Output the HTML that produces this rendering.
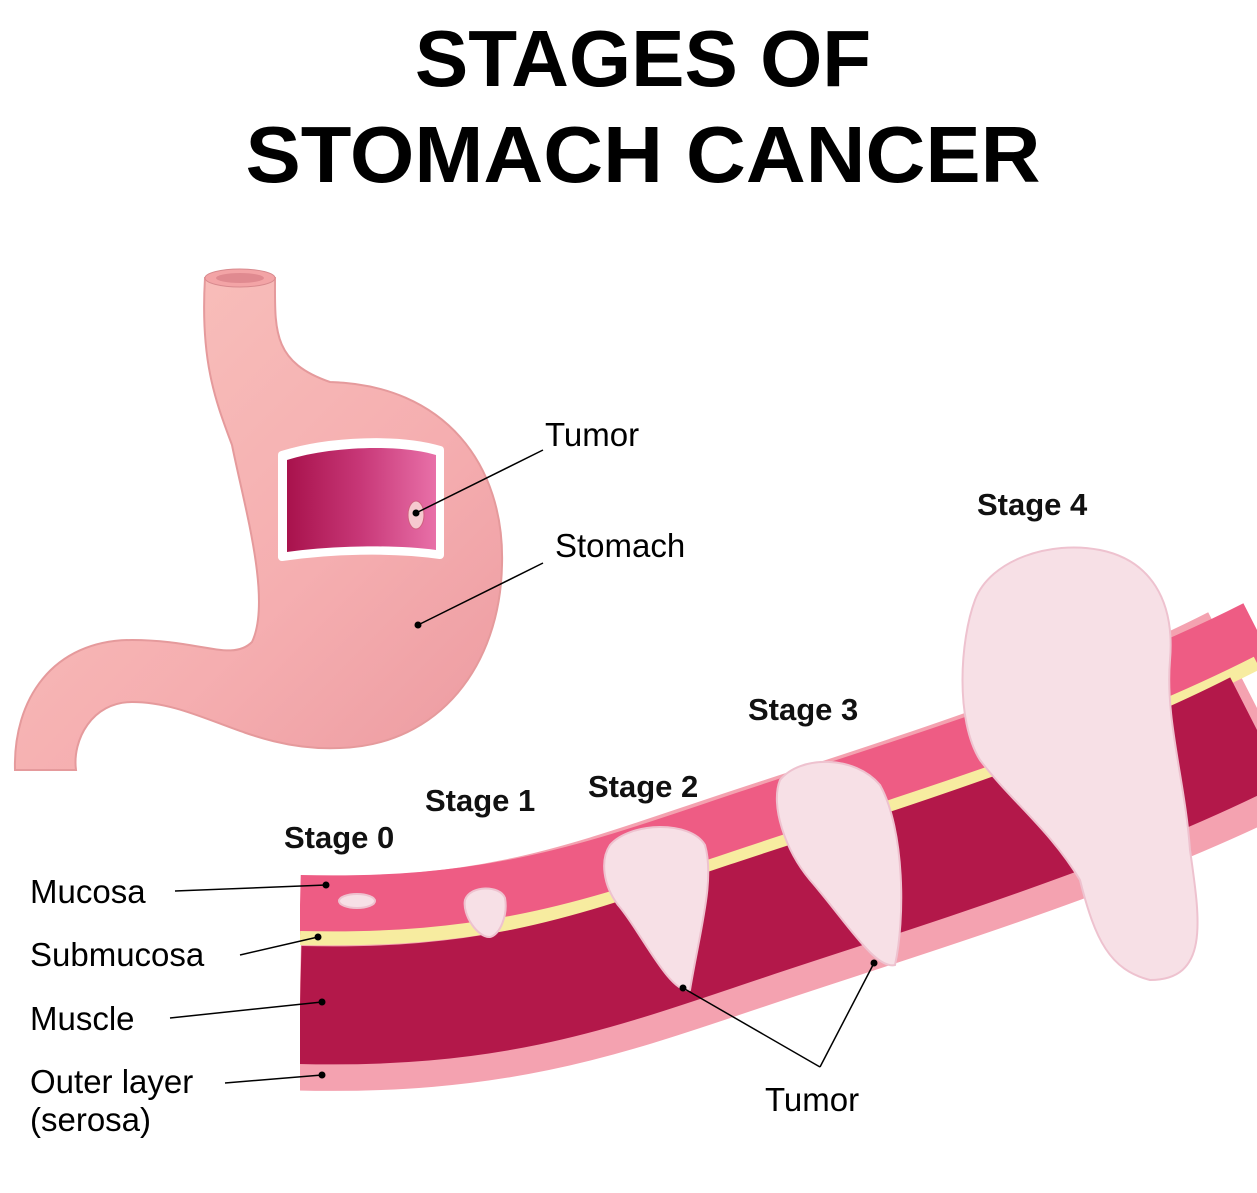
<!DOCTYPE html>
<html><head><meta charset="utf-8"><style>
html,body{margin:0;padding:0;background:#fff;}
svg{display:block;}
</style></head><body>
<svg width="1257" height="1193" viewBox="0 0 1257 1193" xmlns="http://www.w3.org/2000/svg">
<defs>
<linearGradient id="st" x1="0" y1="0" x2="1" y2="1">
<stop offset="0" stop-color="#f9c4be"/><stop offset="0.6" stop-color="#f5aeb0"/><stop offset="1" stop-color="#ec9aa0"/>
</linearGradient>
<linearGradient id="win" x1="0" y1="0" x2="1" y2="0">
<stop offset="0" stop-color="#a8124c"/><stop offset="0.5" stop-color="#c83878"/><stop offset="1" stop-color="#e870a8"/>
</linearGradient>
</defs>
<text x="643" y="86" text-anchor="middle" font-family="Liberation Sans, sans-serif" font-weight="bold" font-size="80" fill="#000">STAGES OF</text>
<text x="643" y="182" text-anchor="middle" font-family="Liberation Sans, sans-serif" font-weight="bold" font-size="80" fill="#000" textLength="795" lengthAdjust="spacingAndGlyphs">STOMACH CANCER</text>

<!-- stomach -->
<path d="M205,278 L275,278 C275,330 272,362 330,382 C445,385 505,465 502,565 C500,665 440,745 340,748 C250,752 200,702 132,702 C92,702 72,740 76,770 L15,770 C13,700 52,640 132,640 C200,640 232,662 252,642 C272,600 244,505 232,445 C216,402 200,362 205,278 Z" fill="url(#st)" stroke="#e59a9c" stroke-width="2"/>
<ellipse cx="240" cy="278" rx="35" ry="9" fill="#f3a4a6" stroke="#d88a8e"/>
<ellipse cx="240" cy="278" rx="24" ry="5" fill="#e08a90"/>
<path d="M282,455 C330,440 400,438 440,450 L440,555 C390,548 330,550 282,557 Z" fill="#fff" stroke="#fff" stroke-width="8" stroke-linejoin="round"/>
<path d="M287,460 C330,446 400,444 436,455 L436,550 C390,544 330,546 287,552 Z" fill="url(#win)"/>
<ellipse cx="416" cy="515" rx="8" ry="14" fill="#f6c9cf" stroke="#d06080"/>
<line x1="416" y1="513" x2="543" y2="450" stroke="#000" stroke-width="1.5"/><circle cx="416" cy="513" r="3.5"/>
<line x1="418" y1="625" x2="543" y2="563" stroke="#000" stroke-width="1.5"/><circle cx="418" cy="625" r="3.5"/>
<text x="545" y="446" font-family="Liberation Sans, sans-serif" font-size="33">Tumor</text>
<text x="555" y="557" font-family="Liberation Sans, sans-serif" font-size="33">Stomach</text>

<!-- tissue strip -->
<g fill="none" stroke-linecap="butt">
<path d="M300,983 C500,988 600,948 750,898 S1100,788 1257,708" stroke="#f4a2b0" stroke-width="215"/>
<path d="M300,905 C500,910 600,870 750,820 S1100,710 1257,630" stroke="#ee5c84" stroke-width="60"/>
<path d="M300,938 C500,943 600,903 750,853 S1100,743 1257,663" stroke="#f7eca0" stroke-width="14"/>
<path d="M300,1005 C500,1010 600,970 750,920 S1100,810 1257,730" stroke="#b3184a" stroke-width="118"/>
</g>
<rect x="0" y="840" width="300" height="270" fill="#fff"/>

<!-- tumors -->
<g fill="#f7e0e6" stroke="#eec2cf" stroke-width="2">
<ellipse cx="357" cy="901" rx="18" ry="7"/>
<path d="M465,900 C470,885 500,885 505,898 C508,915 500,935 490,937 C478,938 462,915 465,900 Z"/>
<path d="M610,845 C630,822 690,820 705,845 C715,880 700,930 690,990 C670,995 640,930 618,905 C603,885 600,860 610,845 Z"/>
<path d="M780,780 C800,755 855,755 880,785 C905,830 905,920 895,965 C875,970 845,920 810,880 C785,850 770,805 780,780 Z"/>
<path d="M975,600 C990,560 1050,540 1100,550 C1150,560 1175,600 1170,660 C1165,720 1185,780 1190,850 C1200,920 1210,980 1150,980 C1110,970 1095,940 1080,880 C1050,830 1010,800 980,760 C955,720 960,640 975,600 Z"/>
</g>

<!-- tumor label lines -->
<g stroke="#000" stroke-width="1.5">
<line x1="683" y1="988" x2="820" y2="1067"/>
<line x1="874" y1="963" x2="820" y2="1067"/>
</g>
<circle cx="683" cy="988" r="3.5"/><circle cx="874" cy="963" r="3.5"/>
<text x="765" y="1111" font-family="Liberation Sans, sans-serif" font-size="33">Tumor</text>

<!-- stage labels -->
<g font-family="Liberation Sans, sans-serif" font-weight="bold" font-size="31" fill="#111">
<text x="284" y="848">Stage 0</text>
<text x="425" y="811">Stage 1</text>
<text x="588" y="797">Stage 2</text>
<text x="748" y="720">Stage 3</text>
<text x="977" y="515">Stage 4</text>
</g>

<!-- layer labels -->
<g font-family="Liberation Sans, sans-serif" font-size="33" fill="#000">
<text x="30" y="903">Mucosa</text>
<text x="30" y="966">Submucosa</text>
<text x="30" y="1030">Muscle</text>
<text x="30" y="1093">Outer layer</text>
<text x="30" y="1131">(serosa)</text>
</g>
<g stroke="#000" stroke-width="1.5">
<line x1="175" y1="891" x2="326" y2="885"/>
<line x1="240" y1="955" x2="318" y2="937"/>
<line x1="170" y1="1018" x2="322" y2="1002"/>
<line x1="225" y1="1083" x2="322" y2="1075"/>
</g>
<circle cx="326" cy="885" r="3.5"/><circle cx="318" cy="937" r="3.5"/><circle cx="322" cy="1002" r="3.5"/><circle cx="322" cy="1075" r="3.5"/>
</svg>
</body></html>
